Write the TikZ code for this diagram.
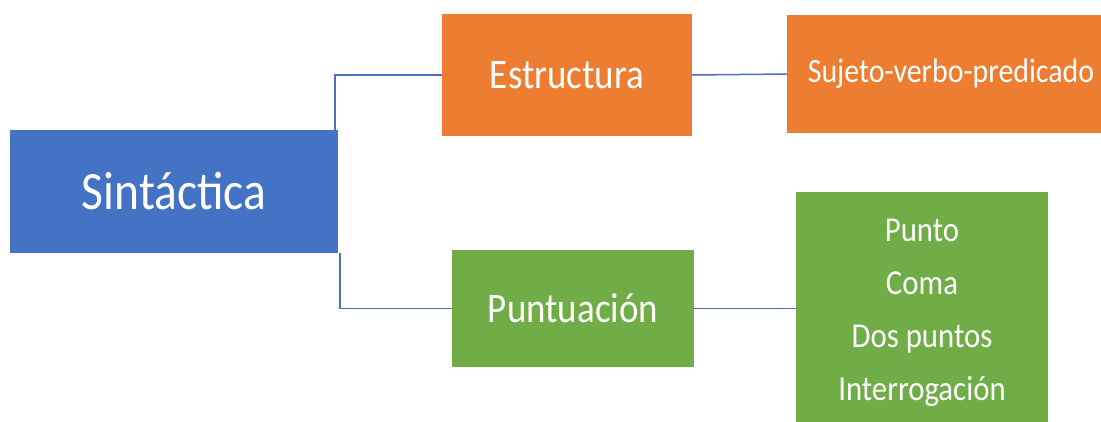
\documentclass[tikz,border=0pt]{standalone}
\usepackage{fontspec}
\setmainfont{Carlito}[FakeStretch=0.88]
\usepackage{tikz}
\usetikzlibrary{positioning}
\definecolor{sinblue}{HTML}{4472C4}
\definecolor{sinorange}{HTML}{ED7D31}
\definecolor{singreen}{HTML}{70AD47}
\definecolor{sinline}{HTML}{4F6FB8}
\begin{document}
\begin{tikzpicture}[x=1pt,y=-1pt,
                    every node/.style={inner sep=0pt,text=white},
                    box/.style={rectangle,align=center},
                    blue box/.style={box,fill=sinblue},
                    orange box/.style={box,fill=sinorange},
                    green box/.style={box,fill=singreen},
                    link/.style={draw=sinline,line width=1.5pt}]
\useasboundingbox (0,0) rectangle (1101,421);
% the main topic
\node [blue box,minimum width=328pt,minimum height=123pt,
       font=\fontsize{54}{60}\selectfont] (sint) at (174,191.5) {Sintáctica};
% first level
\node [orange box,minimum width=250pt,minimum height=122pt,
       font=\fontsize{42}{48}\selectfont] (estr) at (567,75) {Estructura};
\node [green box,minimum width=242pt,minimum height=117pt,
       font=\fontsize{42}{48}\selectfont] (punt) at (573,308.5) {Puntuación};
% second level (cut off at the edges)
\node [orange box,minimum width=328pt,minimum height=118pt,
       font=\fontsize{34}{40}\selectfont] (suj) at (951,74) {Sujeto-verbo-predicado};
\node [green box,minimum width=252pt,minimum height=241pt,
       font=\fontsize{35}{53}\selectfont] (signos) at (922,312.5)
      {Punto\\Coma\\Dos puntos\\Interrogación};
% connectors
\draw [link] ([xshift=-3pt]sint.north east) |- (estr.west);
\draw [link] ([xshift=2pt]sint.south east) |- (punt.west);
\draw [link] (estr.east) -- (suj.west);
\draw [link] (punt.east) -- (punt.east -| signos.west);
\end{tikzpicture}
\end{document}
